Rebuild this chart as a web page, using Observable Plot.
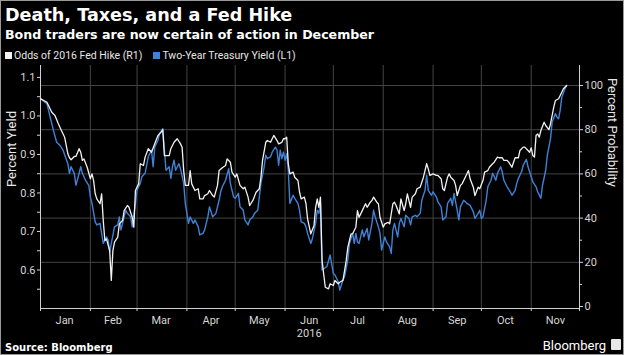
<!DOCTYPE html>
<html><head><meta charset="utf-8">
<script src="https://cdn.jsdelivr.net/npm/d3@7"></script>
<script src="https://cdn.jsdelivr.net/npm/@observablehq/plot@0.6"></script>
<style>
html,body{margin:0;padding:0;background:#000;}
#wrap{position:relative;width:624px;height:355px;background:#000;overflow:hidden;font-family:"DejaVu Sans",sans-serif;color:#fff;}
#border{position:absolute;left:0;top:0;width:622px;height:353px;border:1px solid #9a9a9a;pointer-events:none;}
#title{position:absolute;left:5px;top:5px;font-weight:bold;font-size:17.6px;line-height:20px;white-space:nowrap;}
#subtitle{position:absolute;left:5px;top:27px;font-weight:bold;font-size:12.6px;line-height:15px;white-space:nowrap;}
#legend{position:absolute;left:5px;top:49px;font-family:Roboto,sans-serif;font-size:10.5px;line-height:13px;color:#e6e6e6;white-space:nowrap;display:flex;align-items:center;}
#legend .sw{display:inline-block;width:7px;height:7px;margin-right:2px;}
#legend .item{display:flex;align-items:center;margin-right:11px;}
#chart{position:absolute;left:0;top:60px;width:624px;height:280px;}
#chart svg{position:absolute;left:0;top:0;}
#source{position:absolute;left:5px;top:342px;font-weight:bold;font-size:10px;line-height:12px;}
#logo{position:absolute;right:18px;top:339px;font-family:Roboto,sans-serif;font-size:13px;line-height:14px;}
#logobox{position:absolute;right:3px;top:339px;width:10px;height:11px;background:#e8e8e8;border-radius:1px;}
</style></head>
<body>
<div id="wrap">
  <div id="title">Death, Taxes, and a Fed Hike</div>
  <div id="subtitle">Bond traders are now certain of action in December</div>
  <div id="legend"></div>
  <div id="chart"></div>
  <div id="source">Source: Bloomberg</div>
  <div id="logo">Bloomberg</div>
  <div id="logobox"></div>
  <div id="border"></div>
</div>
<script>
// ---- data ----
const seriesNames = ["Odds of 2016 Fed Hike (R1)", "Two-Year Treasury Yield (L1)"];
const seriesColors = ["#f2f2f2", "#3f82d6"];

const oddsDates = ["01-01","01-05","01-08","01-10","01-12","01-14","01-16","01-18","01-19","01-20","01-22","01-23","01-25","01-26","01-27","01-28","01-30",
"02-01","02-02","02-03","02-04","02-05","02-07","02-08","02-09","02-10","02-11","02-13","02-14","02-15","02-16","02-18","02-19","02-21","02-22","02-24","02-25","02-27","02-28","02-29",
"03-02","03-03","03-05","03-06","03-08","03-10","03-12","03-14","03-16","03-17","03-18","03-21","03-22","03-24","03-26","03-28","03-29","03-30","03-31",
"04-02","04-03","04-04","04-06","04-08","04-09","04-11","04-12","04-14","04-15","04-17","04-18","04-20","04-21","04-23","04-25","04-26","04-28","04-29",
"05-01","05-02","05-04","05-06","05-07","05-09","05-10","05-12","05-14","05-16","05-17","05-18","05-20","05-21","05-23","05-24","05-25","05-27","05-28","05-30","05-31",
"06-01","06-02","06-03","06-04","06-06","06-07","06-09","06-10","06-11","06-13","06-14","06-15","06-17","06-19","06-20","06-21","06-22","06-23","06-24","06-26","06-28","06-29",
"07-01","07-02","07-04","07-05","07-07","07-09","07-10","07-12","07-13","07-15","07-16","07-17","07-19","07-21","07-22","07-24","07-25","07-26","07-28","07-29","07-30",
"08-01","08-02","08-04","08-05","08-07","08-08","08-09","08-11","08-12","08-14","08-15","08-16","08-18","08-19","08-21","08-22","08-24","08-25","08-26","08-28","08-29","08-30",
"09-01","09-03","09-04","09-06","09-07","09-08","09-10","09-11","09-12","09-14","09-15","09-16","09-18","09-19","09-21","09-23","09-24","09-26","09-27","09-29","09-30",
"10-02","10-03","10-05","10-06","10-08","10-09","10-11","10-12","10-14","10-15","10-17","10-18","10-20","10-21","10-22","10-24","10-25","10-27","10-28","10-30","10-31",
"11-01","11-02","11-03","11-04","11-05","11-06","11-07","11-09","11-10","11-12","11-13","11-15","11-16","11-18","11-19","11-21","11-23"];
const oddsValues = [94.0,92.4,87.9,86.4,82.8,79.6,76.6,69.1,67.3,66.4,67.9,67.9,71.4,69.8,66.1,66.8,63.0,
57.8,60.0,57.0,51.0,48.7,46.5,51.0,38.9,29.9,30.6,25.3,11.8,25.3,29.1,31.4,37.4,38.9,43.4,45.7,44.9,40.4,35.9,52.5,
55.5,64.6,63.8,67.6,71.4,69.8,73.6,77.4,78.9,80.0,68.3,68.3,71.4,74.3,75.9,73.6,72.1,61.5,54.8,
54.8,61.5,55.5,52.5,53.3,48.7,48.7,50.2,51.0,52.5,50.2,49.5,54.8,61.5,62.8,63.8,66.8,65.3,60.8,
58.5,60.0,54.8,53.3,54.0,49.5,45.7,48.0,51.7,53.3,58.5,66.1,74.3,75.1,74.3,75.9,77.4,75.1,73.6,74.3,75.9,
75.9,76.6,64.6,60.0,60.8,58.5,57.0,51.7,48.7,49.5,46.5,39.7,32.9,36.7,44.9,48.7,44.9,49.5,20.8,8.7,8.0,10.3,
9.5,11.8,10.3,11.0,11.8,20.8,26.8,32.9,32.9,35.9,43.4,40.4,43.4,46.5,44.9,47.2,48.0,49.5,47.2,46.5,40.4,
35.9,37.4,38.1,37.4,46.5,47.2,45.7,41.9,48.7,43.4,46.5,51.0,44.9,49.5,51.0,53.3,54.0,56.2,58.5,64.6,62.3,59.3,
60.0,59.3,59.3,57.8,53.3,52.5,58.5,60.0,58.5,57.0,54.8,50.2,54.8,55.5,58.5,61.5,57.8,54.0,50.2,54.0,53.3,
57.0,60.8,61.5,63.0,64.6,65.3,67.6,67.3,67.3,66.1,66.1,65.3,63.0,65.3,67.3,67.3,70.6,72.1,72.1,70.6,69.8,
71.8,68.3,67.6,77.4,78.1,76.6,79.6,83.4,81.9,80.0,82.7,90.2,93.2,94.0,95.5,98.5,100];

const yieldDates = ["01-01","01-05","01-07","01-09","01-11","01-13","01-15","01-18","01-19","01-20","01-22","01-23","01-25","01-26","01-27","01-29","01-31",
"02-01","02-02","02-04","02-05","02-07","02-08","02-09","02-11","02-12","02-13","02-14","02-16","02-18","02-19","02-20","02-22","02-23","02-24","02-26","02-27","02-29",
"03-01","03-03","03-04","03-06","03-08","03-10","03-11","03-12","03-14","03-15","03-17","03-18","03-19","03-21","03-22","03-23","03-24","03-25","03-27","03-28","03-30","03-31",
"04-02","04-03","04-05","04-06","04-08","04-09","04-11","04-12","04-14","04-15","04-17","04-19","04-21","04-22","04-23","04-25","04-27","04-28","04-30",
"05-01","05-03","05-04","05-06","05-07","05-09","05-10","05-12","05-13","05-15","05-17","05-19","05-20","05-21","05-23","05-24","05-26","05-27","05-28","05-29","05-30","05-31",
"06-01","06-02","06-03","06-04","06-06","06-07","06-09","06-10","06-11","06-13","06-14","06-15","06-17","06-18","06-20","06-21","06-22","06-23","06-24","06-27","06-29",
"07-01","07-02","07-04","07-05","07-07","07-08","07-10","07-11","07-13","07-14","07-15","07-16","07-17","07-19","07-20","07-22","07-23","07-25","07-26","07-27","07-29","07-30","07-31",
"08-02","08-03","08-05","08-06","08-07","08-08","08-10","08-11","08-12","08-14","08-15","08-17","08-18","08-19","08-21","08-22","08-24","08-25","08-27","08-28","08-29","08-31",
"09-01","09-03","09-04","09-06","09-07","09-09","09-10","09-12","09-13","09-14","09-16","09-17","09-18","09-20","09-21","09-22","09-24","09-26","09-27","09-29","09-30",
"10-01","10-02","10-04","10-05","10-07","10-08","10-10","10-11","10-13","10-14","10-15","10-17","10-19","10-20","10-22","10-23","10-24","10-26","10-27","10-29","10-30",
"11-01","11-02","11-04","11-05","11-07","11-08","11-10","11-11","11-13","11-14","11-16","11-17","11-18","11-19","11-20","11-22","11-23"];
const yieldValues = [1.045,1.032,0.997,0.963,0.932,0.924,0.911,0.876,0.851,0.868,0.851,0.820,0.851,0.868,0.851,0.833,0.820,
0.790,0.773,0.725,0.717,0.721,0.695,0.669,0.686,0.678,0.647,0.669,0.712,0.717,0.738,0.704,0.738,0.755,0.747,0.738,0.712,0.773,
0.807,0.825,0.842,0.851,0.894,0.911,0.868,0.919,0.937,0.954,0.967,0.911,0.859,0.868,0.838,0.868,0.885,0.859,0.876,0.863,0.825,0.773,
0.721,0.738,0.721,0.730,0.712,0.691,0.695,0.704,0.738,0.764,0.738,0.747,0.781,0.803,0.816,0.833,0.863,0.825,0.790,
0.786,0.799,0.764,0.755,0.730,0.717,0.730,0.738,0.747,0.755,0.825,0.868,0.898,0.889,0.894,0.906,0.919,0.911,0.872,0.911,0.889,0.906,
0.885,0.902,0.859,0.773,0.794,0.786,0.773,0.755,0.725,0.721,0.712,0.695,0.669,0.682,0.721,0.755,0.747,0.773,0.600,0.609,0.639,
0.591,0.587,0.570,0.548,0.574,0.583,0.626,0.669,0.695,0.669,0.695,0.673,0.669,0.704,0.686,0.708,0.678,0.721,0.755,0.738,0.712,0.695,0.652,
0.686,0.673,0.660,0.643,0.704,0.721,0.686,0.721,0.734,0.712,0.742,0.734,0.717,0.738,0.742,0.738,0.747,0.781,0.807,0.846,0.807,0.794,
0.803,0.790,0.777,0.764,0.730,0.738,0.773,0.786,0.768,0.799,0.755,0.730,0.764,0.781,0.777,0.773,0.768,0.751,0.734,0.747,0.755,
0.734,0.738,0.781,0.816,0.833,0.851,0.833,0.851,0.868,0.855,0.833,0.816,0.803,0.794,0.807,0.825,0.838,0.855,0.872,0.887,0.868,
0.842,0.829,0.816,0.803,0.786,0.820,0.859,0.898,0.941,0.984,1.006,0.997,0.993,1.015,1.049,1.071,1.079];

const year = "2016";
const monthStarts = ["01-01","02-01","03-01","04-01","05-01","06-01","07-01","08-01","09-01","10-01","11-01","12-01"];
const monthLabelDates = ["01-16","02-15","03-16","04-16","05-16","06-16","07-16","08-16","09-16","10-16","11-16"];
const leftTicks = [0.6, 0.7, 0.8, 0.9, 1.0, 1.1];
const leftMinorTicks = [0.55, 0.65, 0.75, 0.85, 0.95, 1.05];
const rightTicks = [0, 20, 40, 60, 80, 100];
const rightMinorTicks = [10, 30, 50, 70, 90];
const leftDomain = [0.5, 1.131];
const rightDomain = [-0.9, 109.05];
const xDomainDates = ["01-01", "12-01"];
const leftLabel = "Percent Yield";
const rightLabel = "Percent Probability";

// ---- build ----
const parse = d3.utcParse("%Y-%m-%d");
const toDate = s => parse(`${year}-${s}`);
const odds = oddsDates.map((d, i) => ({date: toDate(d), value: oddsValues[i]}));
const yields = yieldDates.map((d, i) => ({date: toDate(d), value: yieldValues[i]}));
const xDomain = xDomainDates.map(toDate);
const starts = monthStarts.map(toDate);
const mids = monthLabelDates.map(toDate);

// legend
const legend = document.getElementById("legend");
seriesNames.forEach((n, i) => {
  const it = document.createElement("span"); it.className = "item";
  const sw = document.createElement("span"); sw.className = "sw"; sw.style.background = seriesColors[i];
  it.appendChild(sw); it.appendChild(document.createTextNode(n)); legend.appendChild(it);
});

const common = {
  width: 624, height: 280,
  marginLeft: 40, marginRight: 45, marginTop: 5, marginBottom: 32,
  style: {background: "transparent", color: "#d6d6d6", fontFamily: "Roboto, sans-serif", fontSize: "11px", overflow: "visible"}
};
const gridColor = "#444444";

// layer 1: grid + right axis (probability scale)
const layer1 = Plot.plot({
  ...common,
  x: {type: "utc", domain: xDomain, axis: null},
  y: {domain: rightDomain, axis: null},
  marks: [
    Plot.gridY(rightTicks.slice(1), {stroke: gridColor, strokeOpacity: 1}),
    Plot.gridX(starts.slice(1, -1), {stroke: gridColor, strokeOpacity: 1}),
    Plot.axisY({anchor: "right", ticks: rightTicks, tickSize: 3, tickPadding: 2, tickFormat: d3.format("d"), label: null}),
    Plot.axisY({anchor: "right", ticks: rightMinorTicks, tickSize: 2, tickFormat: () => "", label: null}),
    Plot.ruleX([xDomain[1]], {stroke: "#cfcfcf"}),
    Plot.text([rightLabel], {frameAnchor: "right", dx: 33, rotate: 90, fontSize: 13, fill: "#e6e6e6"})
  ]
});

// layer 2: yield line + left axis + x axis
const layer2 = Plot.plot({
  ...common,
  x: {type: "utc", domain: xDomain, axis: null},
  y: {domain: leftDomain, axis: null},
  marks: [
    Plot.line(yields, {x: "date", y: "value", stroke: seriesColors[1], strokeWidth: 1.4}),
    Plot.axisY({anchor: "left", ticks: leftTicks, tickSize: 3, tickPadding: 2, tickFormat: d3.format(".1f"), label: null}),
    Plot.axisY({anchor: "left", ticks: leftMinorTicks, tickSize: 3, tickFormat: () => "", label: null}),
    Plot.axisX({anchor: "bottom", ticks: starts, tickSize: 3, tickFormat: () => "", label: null}),
    Plot.axisX({anchor: "bottom", ticks: mids, tickSize: 0, tickPadding: 8, tickFormat: d3.utcFormat("%b"), label: null}),
    Plot.text([year], {x: () => mids[5], frameAnchor: "bottom", dy: 28, fill: "currentColor"}),
    Plot.ruleX([xDomain[0]], {stroke: "#cfcfcf"}),
    Plot.ruleY([leftDomain[0]], {stroke: "#cfcfcf"}),
    Plot.text([leftLabel], {frameAnchor: "left", dx: -29, rotate: -90, fontSize: 13, fill: "#e6e6e6"})
  ]
});

// layer 3: odds line (probability scale)
const layer3 = Plot.plot({
  ...common,
  x: {type: "utc", domain: xDomain, axis: null},
  y: {domain: rightDomain, axis: null},
  marks: [
    Plot.line(odds, {x: "date", y: "value", stroke: seriesColors[0], strokeWidth: 1.3})
  ]
});

const chart = document.getElementById("chart");
[layer1, layer2, layer3].forEach(s => chart.appendChild(s));
</script>
</body></html>
